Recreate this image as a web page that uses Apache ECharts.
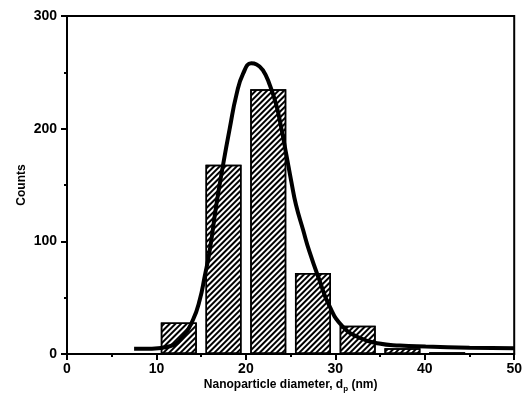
<!DOCTYPE html>
<html><head><meta charset="utf-8">
<script src="https://cdn.jsdelivr.net/npm/echarts@6/dist/echarts.min.js"></script>
<style>html,body{margin:0;padding:0;background:#fff}#c{width:525px;height:414px}</style>
</head><body><div id="c"></div>
<script>
const binCenters = [12.5, 17.5, 22.5, 27.5, 32.5, 37.5, 42.5];
const counts = [28, 168, 235, 72, 25, 5, 1.5];
const fitX = [7.5, 9.3, 11.5, 13.0, 14.1, 14.85, 15.4, 15.96, 16.7, 17.45, 18.2, 18.94, 19.7, 20.6, 21.2, 21.9, 22.66, 23.4, 23.96, 24.52, 25.08, 25.6, 26.4, 27.1, 28.2, 29.35, 30.8, 32.7, 34.9, 37.2, 40.1, 45, 50];
const fitY = [4.6, 4.7, 6.9, 15.8, 30.6, 48.3, 69, 92, 132.5, 168, 200.5, 230, 249, 258, 257, 252, 239, 221, 200.5, 177, 153, 132.5, 110, 91, 66, 42.4, 24.6, 14.4, 9.3, 7.5, 6.6, 5.6, 5.0];
const xTicks = [0, 10, 20, 30, 40, 50];
const yTicks = [0, 100, 200, 300];

const FONT = '"Liberation Sans", Arial, sans-serif';
const chart = echarts.init(document.getElementById('c'));
chart.setOption({
  animation: false,
  grid: {left: 67, right: 10, top: 16, bottom: 60, show: true, borderColor: '#000', borderWidth: 2},
  xAxis: [{
    type: 'value', min: xTicks[0], max: xTicks[xTicks.length - 1], interval: 10,
    axisLine: {show: true, onZero: false, lineStyle: {color: '#000', width: 2}},
    axisTick: {show: true, length: 6, lineStyle: {color: '#000', width: 2}},
    minorTick: {show: true, splitNumber: 2, length: 3, lineStyle: {color: '#000', width: 2}},
    splitLine: {show: true, lineStyle: {color: 'rgba(0,0,0,0)', width: 0}},
    axisLabel: {color: '#000', fontFamily: FONT, fontWeight: 'bold', fontSize: 14, margin: 8},
    name: '{a|Nanoparticle diameter, d}{s|p}{a| (nm)}',
    nameLocation: 'middle', nameGap: 24, nameMoveOverlap: false,
    nameTextStyle: {
      rich: {
        a: {color: '#000', fontFamily: FONT, fontWeight: 'bold', fontSize: 12, lineHeight: 14},
        s: {color: '#000', fontFamily: FONT, fontWeight: 'bold', fontSize: 8, lineHeight: 14, padding: [8, 0, 0, 0]}
      }
    }
  }],
  yAxis: [{
    type: 'value', min: yTicks[0], max: yTicks[yTicks.length - 1], interval: 100,
    axisLine: {show: true, onZero: false, lineStyle: {color: '#000', width: 2}},
    axisTick: {show: true, length: 6, lineStyle: {color: '#000', width: 2}},
    minorTick: {show: true, splitNumber: 2, length: 3, lineStyle: {color: '#000', width: 2}},
    splitLine: {show: true, lineStyle: {color: 'rgba(0,0,0,0)', width: 0}},
    axisLabel: {color: '#000', fontFamily: FONT, fontWeight: 'bold', fontSize: 14, margin: 10},
    name: 'Counts', nameLocation: 'middle', nameGap: 39, nameMoveOverlap: false,
    nameTextStyle: {color: '#000', fontFamily: FONT, fontWeight: 'bold', fontSize: 12}
  }],
  series: [{
    type: 'bar',
    data: binCenters.map((c, i) => [c, counts[i]]),
    barWidth: 36,
    itemStyle: {
      color: '#fff', borderColor: '#000', borderWidth: 1.5,
      decal: {symbol: 'rect', color: '#000', dashArrayX: [1, 0], dashArrayY: [1.3, 1.5], rotation: -Math.PI / 4, symbolSize: 1}
    },
    z: 2
  }, {
    type: 'line',
    data: fitX.map((x, i) => [x, fitY[i]]),
    smooth: 0.5,
    showSymbol: false,
    lineStyle: {color: '#000', width: 4},
    z: 3
  }]
});
</script></body></html>
